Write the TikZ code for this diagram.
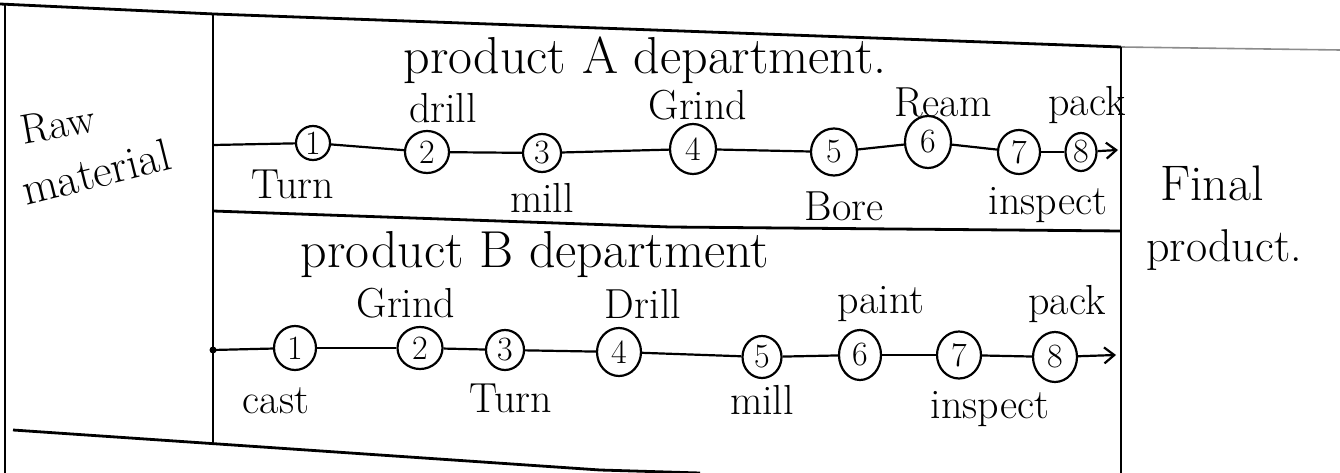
\documentclass[tikz,border=0pt]{standalone}
\usetikzlibrary{shapes.geometric,arrows.meta}
\tikzset{
  frame/.style={line width=2.8pt,black},
  conn/.style={line width=2.2pt,black},
  stn/.style={draw,ellipse,line width=2.2pt,inner sep=0pt,font=\fontsize{34}{36}\selectfont},
  lab/.style={inner sep=0pt,font=\fontsize{42}{48}\selectfont},
  ttl/.style={inner sep=0pt,font=\fontsize{52}{58}\selectfont},
  tip/.style={-{Straight Barb[length=10pt,width=16pt,line width=2.2pt]}}
}
\begin{document}
\begin{tikzpicture}[x=1pt,y=-1pt]
\useasboundingbox[fill=white] (0,0) rectangle (1340,473);
% frame lines
\draw[frame] (0,4) -- (214,14) -- (1121,47);
\draw[line width=1.6pt,black!45] (1121,47) -- (1340,50);
\draw[frame] (5,4) -- (5,473);
\draw[frame] (213,14) -- (213,443);
\draw[frame] (1121,47) -- (1121,473);
\draw[frame] (213,211) -- (670,227) -- (1121,231);
\draw[frame] (13,430) -- (600,470) -- (700,473);
% side labels
\node[lab,rotate=10] (raw) at (58,124) {Raw};
\node[lab,rotate=14,font=\fontsize{46}{50}\selectfont] (mat) at (96,172) {material};
\node[lab,font=\fontsize{50}{54}\selectfont] (fin) at (1212,183) {Final};
\node[lab,font=\fontsize{46}{50}\selectfont] (prod) at (1224,250) {product.};
% titles
\node[ttl] (tA) at (645,60) {product A department.};
\node[ttl] (tB) at (535,255) {product B department};
% row A stations
\coordinate (a0) at (213,145);
\node[stn,minimum width=34pt,minimum height=34pt] (a1) at (313,143) {1};
\node[stn,minimum width=44pt,minimum height=42pt] (a2) at (427,152) {2};
\node[stn,minimum width=38pt,minimum height=38pt] (a3) at (542,153) {3};
\node[stn,minimum width=46pt,minimum height=50pt] (a4) at (693,149) {4};
\node[stn,minimum width=46pt,minimum height=47pt] (a5) at (834,152) {5};
\node[stn,minimum width=46pt,minimum height=52pt] (a6) at (928,142) {6};
\node[stn,minimum width=42pt,minimum height=44pt] (a7) at (1019,152) {7};
\node[stn,minimum width=31pt,minimum height=38pt] (a8) at (1081,152) {8};
\coordinate (aE) at (1118,150);
\draw[conn] (a0) -- (a1);
\draw[conn] (a1) -- (a2);
\draw[conn] (a2) -- (a3);
\draw[conn] (a3) -- (a4);
\draw[conn] (a4) -- (a5);
\draw[conn] (a5) -- (a6);
\draw[conn] (a6) -- (a7);
\draw[conn] (a7) -- (a8);
\draw[conn,tip] (a8) -- (aE);
% row A labels
\node[lab] (lA2) at (443,108) {drill};
\node[lab] (lA4) at (698,105) {Grind};
\node[lab] (lA6) at (943,102) {Ream};
\node[lab] (lA8) at (1087,105) {pack};
\node[lab] (lA1) at (293,184) {Turn};
\node[lab] (lA3) at (542,198) {mill};
\node[lab] (lA5) at (844,206) {Bore};
\node[lab] (lA7) at (1048,205) {inspect};
% row B stations
\coordinate (b0) at (213,350);
\node[stn,minimum width=42pt,minimum height=44pt] (b1) at (295,348) {1};
\node[stn,minimum width=45pt,minimum height=42pt] (b2) at (420,348) {2};
\node[stn,minimum width=38pt,minimum height=40pt] (b3) at (505,350) {3};
\node[stn,minimum width=44pt,minimum height=48pt] (b4) at (619,352) {4};
\node[stn,minimum width=39pt,minimum height=42pt] (b5) at (762,357) {5};
\node[stn,minimum width=42pt,minimum height=50pt] (b6) at (860,355) {6};
\node[stn,minimum width=44pt,minimum height=47pt] (b7) at (959,355) {7};
\node[stn,minimum width=44pt,minimum height=50pt] (b8) at (1055,357) {8};
\coordinate (bE) at (1116,355);
\fill (b0) circle (3.5pt);
\draw[conn] (b0) -- (b1);
\draw[conn] (b1) -- (b2);
\draw[conn] (b2) -- (b3);
\draw[conn] (b3) -- (b4);
\draw[conn] (b4) -- (b5);
\draw[conn] (b5) -- (b6);
\draw[conn] (b6) -- (b7);
\draw[conn] (b7) -- (b8);
\draw[conn,tip] (b8) -- (bE);
% row B labels
\node[lab] (lB2) at (406,303) {Grind};
\node[lab] (lB4) at (643,304) {Drill};
\node[lab] (lB6) at (881,304) {paint};
\node[lab] (lB8) at (1067,304) {pack};
\node[lab] (lB1) at (276,401) {cast};
\node[lab] (lB3) at (511,398) {Turn};
\node[lab] (lB5) at (762,400) {mill};
\node[lab] (lB7) at (990,409) {inspect};
\end{tikzpicture}
\end{document}
